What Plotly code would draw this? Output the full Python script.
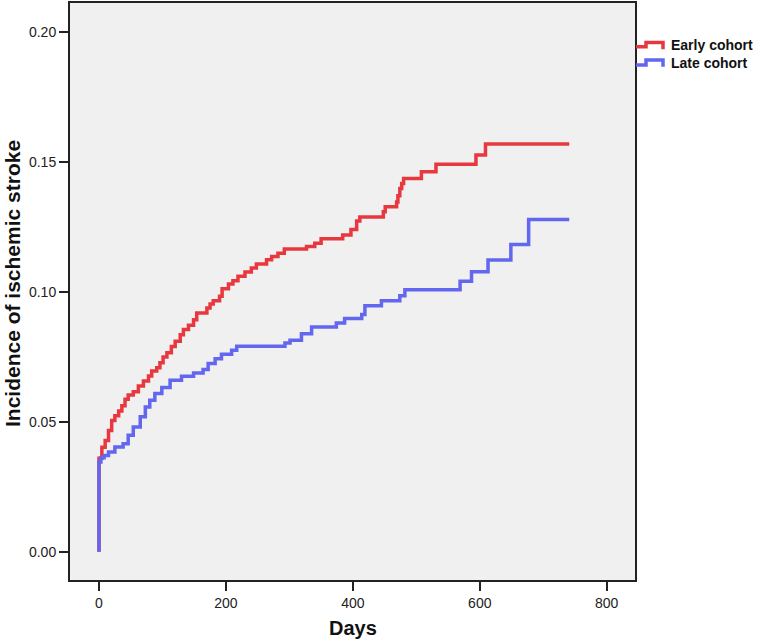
import plotly.graph_objects as go

# ---- data ----
early_days = [0, 0, 4.5, 9.7, 15, 20, 25, 31, 36, 41, 46, 54, 62, 70, 78, 83, 91, 96, 101, 107,
              114, 120, 128, 133, 141, 149, 154, 170, 175, 180, 190, 194, 204, 211, 219, 230,
              240, 248, 264, 272, 282, 292, 327, 340, 350, 384, 397, 406, 411, 448, 451, 469,
              471, 474, 477, 480, 508, 531, 594, 609, 741]
early_inc = [0.0, 0.0360, 0.0402, 0.0428, 0.0467, 0.0505, 0.0523, 0.0542, 0.0562, 0.0587, 0.0603,
             0.0616, 0.0638, 0.0657, 0.0676, 0.0695, 0.0708, 0.0727, 0.0749, 0.0766, 0.0790,
             0.0810, 0.0835, 0.0855, 0.0871, 0.0893, 0.0919, 0.0938, 0.0953, 0.0966, 0.0983,
             0.1012, 0.1030, 0.1043, 0.1060, 0.1076, 0.1092, 0.1107, 0.1123, 0.1136, 0.1148,
             0.1165, 0.1174, 0.1187, 0.1204, 0.1219, 0.1240, 0.1272, 0.1288, 0.1308, 0.1327,
             0.1346, 0.1370, 0.1397, 0.1417, 0.1436, 0.1462, 0.1491, 0.1526, 0.1569, 0.1569]

late_days = [0, 0, 3, 8, 15, 25, 38, 46, 54, 65, 73, 80, 88, 99, 112, 130, 149, 164, 172, 183,
             193, 209, 217, 293, 301, 319, 335, 374, 387, 414, 419, 445, 474, 482, 569, 587,
             613, 649, 677, 741]
late_inc = [0.0, 0.0345, 0.0362, 0.0370, 0.0384, 0.0403, 0.0416, 0.0448, 0.0480, 0.0519, 0.0557,
            0.0583, 0.0609, 0.0632, 0.0660, 0.0675, 0.0688, 0.0701, 0.0724, 0.0743, 0.0760,
            0.0775, 0.0791, 0.0803, 0.0814, 0.0839, 0.0865, 0.0880, 0.0897, 0.0913, 0.0946,
            0.0966, 0.0985, 0.1008, 0.1041, 0.1077, 0.1122, 0.1182, 0.1278, 0.1278]

series_names = ["Early cohort", "Late cohort"]
x_ticks = [0, 200, 400, 600, 800]
y_ticks = [0.00, 0.05, 0.10, 0.15, 0.20]

RED = "#E8383F"
BLUE = "#6366EE"
FONT = "Liberation Sans, Arial, Helvetica, sans-serif"

# ---- layout geometry (pixels) ----
W, H = 757, 643
L, R, T, B = 70, 635, 1, 580


def px(xp):
    return (xp - L) / (R - L)


def py(yp):
    return (B - yp) / (B - T)


fig = go.Figure()
fig.add_trace(go.Scatter(x=early_days, y=early_inc, mode="lines", line_shape="hv",
                         line=dict(color=RED, width=3.5), name=series_names[0], showlegend=False))
fig.add_trace(go.Scatter(x=late_days, y=late_inc, mode="lines", line_shape="hv",
                         line=dict(color=BLUE, width=3.5), name=series_names[1], showlegend=False))

# custom step-shaped legend icons
shapes = []
for col, ylow, ytop, yend in [(RED, 45, 40.7, 47.3), (BLUE, 63.3, 58.3, 65)]:
    path = (f"M {px(636)},{py(ylow)} L {px(646)},{py(ylow)} L {px(646)},{py(ytop)} "
            f"L {px(663)},{py(ytop)} L {px(663)},{py(yend)}")
    shapes.append(dict(type="path", path=path, xref="paper", yref="paper",
                       line=dict(color=col, width=3.5)))

annotations = [
    dict(text="<b>" + series_names[0] + "</b>", x=px(669), y=py(43.5), xref="paper",
         yref="paper", xanchor="left", yanchor="middle", showarrow=False,
         font=dict(family=FONT, size=14, color="#111")),
    dict(text="<b>" + series_names[1] + "</b>", x=px(669), y=py(61.5), xref="paper",
         yref="paper", xanchor="left", yanchor="middle", showarrow=False,
         font=dict(family=FONT, size=14, color="#111")),
    dict(text="<b>Days</b>", x=px(353), y=py(628), xref="paper", yref="paper",
         xanchor="center", yanchor="middle", showarrow=False,
         font=dict(family=FONT, size=20, color="#111")),
    dict(text="<b>Incidence of ischemic stroke</b>", x=px(12), y=py(283), xref="paper",
         yref="paper", xanchor="center", yanchor="middle", textangle=-90, showarrow=False,
         font=dict(family=FONT, size=21, color="#111")),
]

fig.update_layout(
    width=W, height=H,
    margin=dict(l=L, r=W - R, t=T, b=H - B, pad=0),
    paper_bgcolor="white", plot_bgcolor="#F0F0F0",
    shapes=shapes, annotations=annotations,
    font=dict(family=FONT, size=14, color="#222"),
)
fig.update_xaxes(range=[-45.7, 844.6], tickvals=x_ticks, ticktext=[str(v) for v in x_ticks],
                 showgrid=False, zeroline=False, showline=True, linecolor="#222", linewidth=2,
                 mirror=True, ticks="outside", ticklen=9, tickwidth=2, tickcolor="#222",
                 tickfont=dict(family=FONT, size=14, color="#222"))
fig.update_yaxes(range=[-0.01085, 0.2111], tickvals=y_ticks,
                 ticktext=[f"{v:.2f}" for v in y_ticks],
                 showgrid=False, zeroline=False, showline=True, linecolor="#222", linewidth=2,
                 mirror=True, ticks="outside", ticklen=9, tickwidth=2, tickcolor="#222",
                 tickfont=dict(family=FONT, size=14, color="#222"))

fig.write_html("out.html", config={"displayModeBar": False},
               post_script="document.body.style.margin='0px';")
